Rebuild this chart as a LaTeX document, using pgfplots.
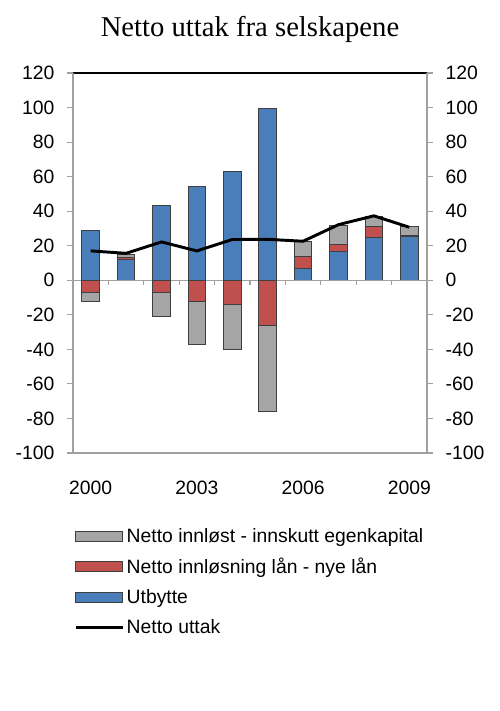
\documentclass[border=0pt]{standalone}
\usepackage{fontspec}
\setmainfont{Liberation Sans}
\newfontfamily\titlefont{Liberation Serif}
\usepackage{pgfplots}
\pgfplotsset{compat=1.18}

\definecolor{utb}{HTML}{4A7EBB}
\definecolor{laan}{HTML}{C0504D}
\definecolor{egk}{HTML}{A5A5A5}
\definecolor{kant}{HTML}{3F3F3F}
\definecolor{akse}{HTML}{A0A0A0}

% year index, utbytte, laan (+/-), egenkapital (+/-), netto
\pgfplotstableread{
x  utb   laanp laann egkp egkn netto
0  29.0  0     -7.0  0    -5.4  17.0
1  12.2  1.2   0     1.8  0     15.6
2  43.0  0     -7.1  0    -14.1 22.2
3  54.0  0     -12.5 0    -24.8 17.0
4  63.1  0     -14.1 0    -25.7 23.6
5  99.2  0     -26.0 0    -49.9 23.7
6  6.6   6.9   0     8.9  0     22.6
7  16.8  3.9   0     11.2 0     32.2
8  24.7  6.2   0     5.8  0     37.3
9  25.2  0.5   0     5.3  0     30.7
}\data

\pgfplotsset{
  felles/.style={
    scale only axis,
    width=265.5pt, height=285pt,
    at={(54.75pt,193.5pt)}, anchor=south west,
    xmin=-0.5, xmax=9.5,
    ymin=-100, ymax=120,
    ytick={-100,-80,...,120},
    tick align=outside,
    major tick length=4.5pt,
    ytick style={draw=akse, line width=0.8pt},
    ticklabel style={font=\fontsize{14.5}{17}\selectfont},
    /pgf/number format/assume math mode=true,
  },
  stolpe/.style={ybar stacked, bar width=13.2pt},
}

\begin{document}
\begin{tikzpicture}
\useasboundingbox (0,0) rectangle (375pt,533.25pt);
\node[font=\titlefont\fontsize{21.5}{24}\selectfont] at (187.5pt,511pt) {Netto uttak fra selskapene};

% positive stack, frame and year labels
\begin{axis}[
  felles, stolpe,
  ytick=\empty,
  xtick={0,3,6,9},
  xticklabels={2000,2003,2006,2009},
  xticklabel style={yshift=-13pt},
  xtick style={draw=none},
  axis line style={draw=akse, line width=0.8pt},
]
\draw[akse, line width=0.8pt] (axis cs:-0.5,0) -- (axis cs:9.5,0);
\pgfplotsinvokeforeach{0.5,1.5,...,8.5}{
  \draw[akse, line width=0.8pt] (axis cs:#1,0) -- (axis cs:#1,-2.9);
}
\draw[black, line width=0.8pt] (rel axis cs:0,1) -- (rel axis cs:1,1);
\addplot[fill=utb, draw=kant, line width=0.75pt] table[x=x, y=utb] {\data};
\addplot[fill=laan, draw=kant, line width=0.75pt] table[x=x, y=laanp] {\data};
\addplot[fill=egk, draw=kant, line width=0.75pt] table[x=x, y=egkp] {\data};
\end{axis}

% negative stack, left ticks
\begin{axis}[
  felles, stolpe,
  axis x line=none,
  axis y line*=left,
  axis line style={draw=akse, line width=0.8pt},
  xtick=\empty,
  yticklabel style={xshift=-6pt},
]
\addplot[fill=laan, draw=kant, line width=0.75pt] table[x=x, y=laann] {\data};
\addplot[fill=egk, draw=kant, line width=0.75pt] table[x=x, y=egkn] {\data};
\end{axis}

% line, right ticks, legend
\begin{axis}[
  felles,
  axis x line=none,
  axis y line*=right,
  axis line style={draw=akse, line width=0.8pt},
  xtick=\empty,
  yticklabel style={xshift=6pt},
  legend style={
    at={(-0.008,-0.183)}, anchor=north west,
    draw=none, fill=none,
    font=\fontsize{14.5}{17}\selectfont,
    row sep=6.5pt,
    legend cell align=left,
  },
  legend image code/.code={
    \draw[#1] (0pt,-3.75pt) rectangle (35pt,3.75pt);
  },
]
\addlegendimage{fill=egk, draw=kant, line width=0.75pt}
\addlegendentry{Netto innløst - innskutt egenkapital}
\addlegendimage{fill=laan, draw=kant, line width=0.75pt}
\addlegendentry{Netto innløsning lån - nye lån}
\addlegendimage{fill=utb, draw=kant, line width=0.75pt}
\addlegendentry{Utbytte}
\addplot[black, line width=2.2pt, mark=none,
  legend image code/.code={\draw[black, line width=2.2pt] (0pt,0pt) -- (35pt,0pt);}]
  table[x=x, y=netto] {\data};
\addlegendentry{Netto uttak}
\end{axis}
\end{tikzpicture}
\end{document}
